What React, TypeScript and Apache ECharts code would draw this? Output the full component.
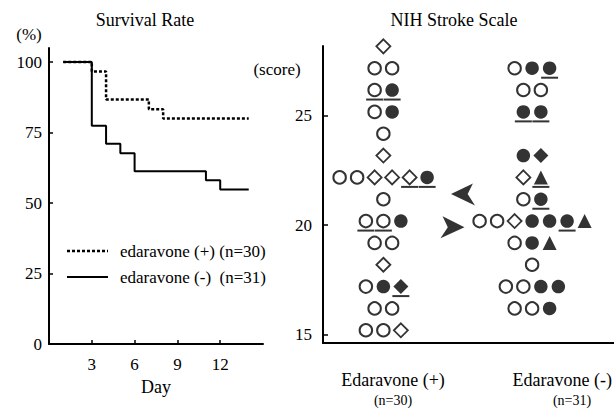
import React, { useEffect, useRef } from 'react';
import * as echarts from 'echarts';

// ---------- Survival rate (Kaplan–Meier style step curves) ----------
const survivalDaysPlus = [1, 3, 4, 7, 8, 14];
const survivalPlus = [100, 96.7, 86.7, 83.3, 80, 80];
const survivalDaysMinus = [1, 3, 4, 5, 6, 11, 12, 14];
const survivalMinus = [100, 77.4, 71.0, 67.7, 61.3, 58.1, 54.8, 54.8];
const dayTicks = [3, 6, 9, 12];
const percentTicks = [0, 25, 50, 75, 100];
const legendNames = ['edaravone (+) (n=30)', 'edaravone (-)  (n=31)'];

// ---------- NIH Stroke Scale (individual patients) ----------
// codes: o open circle, c filled circle, d open diamond, D filled diamond, t filled triangle; "_" = underlined
const scoreTicks = [15, 20, 25];
const nihssPlusScores = [28, 27, 26, 25, 24, 23, 22, 21, 20, 19, 18, 17, 16, 15];
const nihssPlusRows = [
  'd', 'o o', 'o_ c_', 'o c', 'o', 'd', 'o o d d d_ c_', 'o', 'o_ o_ c', 'o o', 'd', 'o c D_', 'o o', 'o o d',
];
const nihssMinusScores = [27, 26, 25, 23, 22, 21, 20, 19, 18, 17, 16];
const nihssMinusRows = [
  'o c c_', 'o o', 'c_ c_', 'c D', 'd t_', 'o c_', 'o o d c c c_ t', 'o c t', 'o', 'o o c c', 'o o c',
];
const arrowScores = [21.4, 19.9];
const groupLabels = ['Edaravone (+)', 'Edaravone (-)'];
const groupN = ['(n=30)', '(n=31)'];

const FONT = "'Liberation Serif', 'Times New Roman', serif";

export default function App() {
  const ref = useRef<HTMLDivElement>(null);

  useEffect(() => {
    if (!ref.current) return;
    const chart = echarts.init(ref.current, null, { renderer: 'svg' });

    // layout constants for the dot plot (x in symbol-slot units)
    const centers = [3.45, 11.95];
    const slot = 1;
    const arrowX = [8.0, 7.4];

    const kinds: Record<string, any[]> = { o: [], c: [], d: [], D: [], t: [], u: [] };
    const addGroup = (scores: number[], rows: string[], center: number) => {
      scores.forEach((s, r) => {
        const items = rows[r].split(' ');
        const n = items.length;
        items.forEach((code, i) => {
          const x = center + (i - (n - 1) / 2) * slot;
          const k = code.replace('_', '');
          kinds[k].push([x, s]);
          if (code.includes('_')) kinds.u.push([x, s]);
        });
      });
    };
    addGroup(nihssPlusScores, nihssPlusRows, centers[0]);
    addGroup(nihssMinusScores, nihssMinusRows, centers[1]);

    const dotBase = { type: 'scatter', xAxisIndex: 1, yAxisIndex: 1, symbolOffset: [0, -4], silent: true };

    const axisLineStyle = { color: '#000', width: 2 };
    const labelStyle = { color: '#000', fontSize: 17, fontFamily: FONT };
    const txt = (text: string, x: number, y: number, fontSize: number, align = 'center') => ({
      type: 'text', x, y, silent: true,
      style: { text, fontSize, fontFamily: FONT, fill: '#000', align, verticalAlign: 'middle' },
    });

    const option: any = {
      animation: false,
      textStyle: { fontFamily: FONT, color: '#000' },
      grid: [
        { left: 49, top: 48, width: 214, height: 296 },
        { left: 323, top: 46, width: 291, height: 297 },
      ],
      xAxis: [
        {
          type: 'value', gridIndex: 0, min: 0, max: 15,
          axisLine: { show: true, lineStyle: axisLineStyle },
          axisTick: { show: true, inside: true, length: 4, customValues: dayTicks, lineStyle: { color: '#000', width: 1.5 } },
          axisLabel: { customValues: dayTicks, margin: 12, ...labelStyle },
          splitLine: { show: false },
          name: 'Day', nameLocation: 'middle', nameGap: 34,
          nameTextStyle: { fontSize: 18, color: '#000', fontFamily: FONT },
        },
        {
          type: 'value', gridIndex: 1, min: 0, max: 16.63,
          axisLine: { show: true, lineStyle: axisLineStyle },
          axisTick: { show: false }, axisLabel: { show: false }, splitLine: { show: false },
        },
      ],
      yAxis: [
        {
          type: 'value', gridIndex: 0, min: 0, max: 105,
          axisLine: { show: true, lineStyle: axisLineStyle },
          axisTick: { show: true, inside: true, length: 4, customValues: percentTicks, lineStyle: { color: '#000', width: 1.5 } },
          axisLabel: { customValues: percentTicks, margin: 7, ...labelStyle },
          splitLine: { show: false },
        },
        {
          type: 'value', gridIndex: 1, min: 14.6, max: 28.2,
          axisLine: { show: true, lineStyle: axisLineStyle },
          axisTick: { show: true, inside: true, length: 5, customValues: scoreTicks, lineStyle: { color: '#000', width: 1.5 } },
          axisLabel: { customValues: scoreTicks, margin: 11, ...labelStyle },
          splitLine: { show: false },
        },
      ],
      series: [
        {
          type: 'line', name: legendNames[0], xAxisIndex: 0, yAxisIndex: 0, step: 'end', symbol: 'none', silent: true,
          data: survivalDaysPlus.map((d, i) => [d, survivalPlus[i]]),
          lineStyle: { color: '#000', width: 2.5, type: [3, 2] },
        },
        {
          type: 'line', name: legendNames[1], xAxisIndex: 0, yAxisIndex: 0, step: 'end', symbol: 'none', silent: true,
          data: survivalDaysMinus.map((d, i) => [d, survivalMinus[i]]),
          lineStyle: { color: '#000', width: 2 },
        },
        { ...dotBase, data: kinds.o, symbol: 'circle', symbolSize: 12.5, itemStyle: { color: '#fff', borderColor: '#000', borderWidth: 2 } },
        { ...dotBase, data: kinds.c, symbol: 'circle', symbolSize: 13.5, itemStyle: { color: '#000' } },
        { ...dotBase, data: kinds.d, symbol: 'diamond', symbolSize: 14, itemStyle: { color: '#fff', borderColor: '#000', borderWidth: 1.8 } },
        { ...dotBase, data: kinds.D, symbol: 'diamond', symbolSize: 15, itemStyle: { color: '#000' } },
        { ...dotBase, data: kinds.t, symbol: 'triangle', symbolSize: 14, itemStyle: { color: '#000' } },
        { ...dotBase, data: kinds.u, symbol: 'rect', symbolSize: [17, 2], symbolOffset: [0, 5.5], itemStyle: { color: '#000' } },
        {
          type: 'scatter', xAxisIndex: 1, yAxisIndex: 1, silent: true, symbolSize: [24, 22], itemStyle: { color: '#000' },
          data: [
            { value: [arrowX[0], arrowScores[0]], symbol: 'path://M0,10 L21,0 L16,10 L23,21 Z' },
            { value: [arrowX[1], arrowScores[1]], symbol: 'path://M23,11 L2,0 L7,11 L0,22 Z' },
          ],
        },
      ],
      graphic: [
        txt('Survival Rate', 145, 20, 18),
        txt('NIH Stroke Scale', 454, 20, 18),
        txt('(%)', 29, 34, 17),
        txt('(score)', 277, 69, 17),
        { type: 'line', silent: true, shape: { x1: 67, y1: 251, x2: 108, y2: 251 }, style: { stroke: '#000', lineWidth: 2.5, lineDash: [3, 2] } },
        { type: 'line', silent: true, shape: { x1: 67, y1: 277, x2: 108, y2: 277 }, style: { stroke: '#000', lineWidth: 2 } },
        txt(legendNames[0], 120, 251, 17, 'left'),
        txt(legendNames[1], 120, 277, 17, 'left'),
        txt(groupLabels[0], 393, 380, 18),
        txt(groupN[0], 393, 400, 14),
        txt(groupLabels[1], 612, 380, 18, 'right'),
        txt(groupN[1], 572, 400, 14),
      ],
    };

    chart.setOption(option);
    return () => chart.dispose();
  }, []);

  return <div ref={ref} style={{ position: 'fixed', left: 0, top: 0, width: 614, height: 408, background: '#fff' }} />;
}
